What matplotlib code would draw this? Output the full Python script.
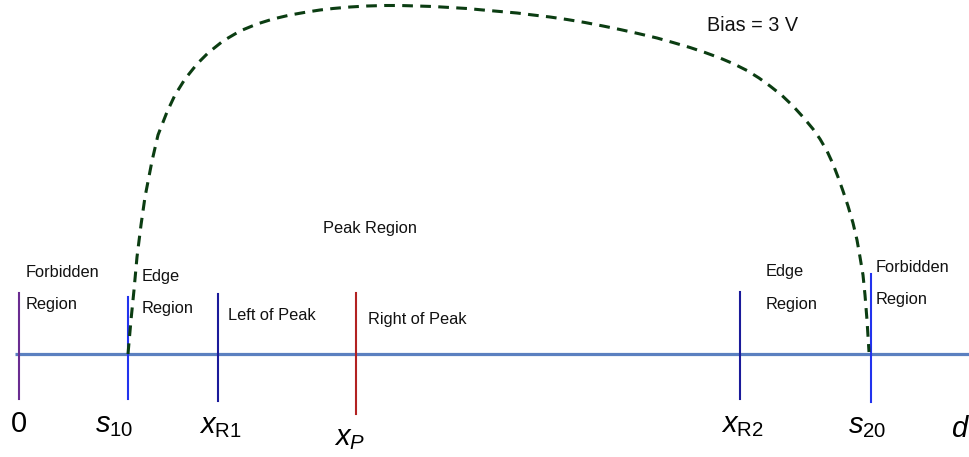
import matplotlib.pyplot as plt

plt.rcParams['font.family'] = ['Liberation Sans', 'DejaVu Sans']
plt.rcParams['mathtext.fontset'] = 'custom'
plt.rcParams['mathtext.rm'] = 'Liberation Sans'
plt.rcParams['mathtext.it'] = 'Liberation Sans:italic'

# diagram laid out in image pixel units (x right, y down)
axis_y = 354
axis_x = [15, 970]

# vertical markers: position, top, bottom, colour
mark_x = [19, 128, 218, 356, 740, 871]
mark_top = [293, 297, 294, 293, 292, 274]
mark_bot = [399, 399, 401, 414, 399, 402]
mark_col = ['#6a2c91', '#2233ee', '#1a1a9a', '#b22222', '#1a1a9a', '#2233ee']

math_labels = ['$0$', '$s_{10}$', r'$x_{\mathrm{R1}}$', '$x_P$', r'$x_{\mathrm{R2}}$', '$s_{20}$', '$d$']
math_x = [19, 114, 220, 350, 742, 867, 960]
math_base = [432, 432, 433, 445, 432, 433, 437]

# region labels: text, left x, baseline y
region_text = ['Forbidden', 'Region', 'Edge', 'Region', 'Left of Peak', 'Peak Region',
               'Right of Peak', 'Edge', 'Region', 'Forbidden', 'Region']
region_x = [26, 26, 142, 142, 228, 323, 368, 766, 766, 876, 876]
region_base = [277, 309, 281, 313, 320, 233, 324, 276, 309, 272, 304]

# bias = 3 V profile
curve_x = [128, 131, 134, 137, 141, 145, 152, 158, 167, 175, 185, 197, 208, 223, 240,
           257, 273, 290, 307, 320, 333, 350, 367, 385, 400, 417, 433, 450, 467, 483,
           500, 517, 533, 550, 567, 585, 603, 620, 638, 657, 673, 690, 705, 720, 734,
           747, 759, 770, 782, 793, 803, 813, 820, 827, 833, 838, 843, 848, 853, 857,
           860, 863, 865, 867, 869]
curve_y = [354, 320, 290, 257, 225, 197, 161, 135, 112, 95, 79, 64, 53, 41, 31,
           24, 19, 15, 12, 10, 8.5, 7, 6, 5.5, 5.5, 6, 6.5, 7.5, 8.5, 10,
           11.5, 13, 15, 17, 19.5, 22.5, 26, 29.5, 33.5, 38, 42.5, 47.5, 52.5, 58, 64,
           70.5, 78, 86, 95.5, 106, 117, 129, 139, 151, 164, 177, 191, 206, 223, 240,
           257, 275, 295, 320, 352]

fig = plt.figure(figsize=(9.7, 4.57), dpi=100)
ax = fig.add_axes([0, 0, 1, 1])
ax.set_xlim(0, 970)
ax.set_ylim(457, 0)
ax.axis('off')

ax.plot(axis_x, [axis_y, axis_y], color='#5b80c0', lw=2.3, solid_capstyle='butt')

for x, t, b, c in zip(mark_x, mark_top, mark_bot, mark_col):
    ax.plot([x, x], [t, b], color=c, lw=1.5)

ax.plot(curve_x, curve_y, color='#0b3d12', lw=2.2, dashes=(3.5, 2.4))

for s, x, y in zip(math_labels, math_x, math_base):
    ax.text(x, y, s, fontsize=21, ha='center', va='baseline')

for s, x, y in zip(region_text, region_x, region_base):
    ax.text(x, y, s, fontsize=11.8, ha='left', va='baseline', color='#111111')

ax.text(707, 31, 'Bias = 3 V', fontsize=14.2, ha='left', va='baseline', color='#111111')

fig.savefig('out.png', dpi=100)
